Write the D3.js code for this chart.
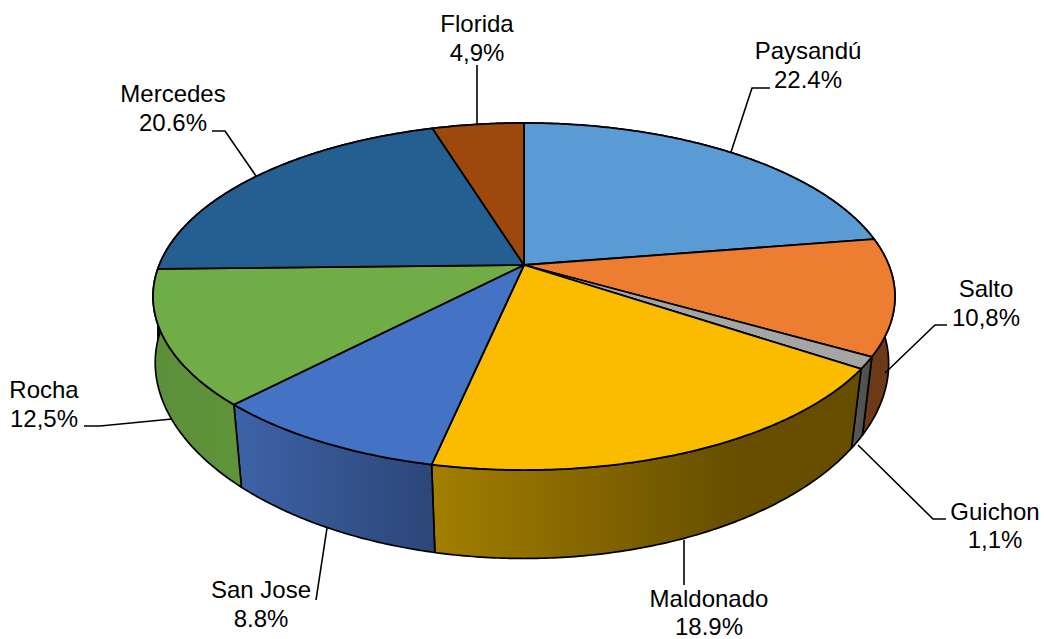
<!DOCTYPE html>
<html>
<head>
<meta charset="utf-8">
<script src="https://cdn.jsdelivr.net/npm/d3@7/dist/d3.min.js"></script>
<style>html,body{margin:0;padding:0;background:#fff}svg{display:block}</style>
</head>
<body>
<script>
const categories = ["Paysandú","Salto","Guichon","Maldonado","San Jose","Rocha","Mercedes","Florida"];
const values = [22.4,10.8,1.1,18.9,8.8,12.5,20.6,4.9];
const valueLabels = ["22.4%","10,8%","1,1%","18.9%","8.8%","12,5%","20.6%","4,9%"];
const topColors = ["#5b9bd5","#ed7d31","#a5a5a5","#fbbc00","#4472c4","#70ad47","#255e91","#9e480e"];
const wallStart = ["#3d6a94","#6c3a16","#5a5a5a","#a37f00","#3d63a8","#5c8f3a","#1a4266","#6e320a"];
const wallEnd   = ["#3d6a94","#6c3a16","#4c4c4c","#664d00","#2c4677","#5f9439","#1a4266","#6e320a"];

// label layout: centre x, first baseline, leader polyline
const labelLayout = [
  {x:808,y:59, dy:29, leader:[[770,88],[752,88],[731,152]]},
  {x:986,y:297,dy:29, leader:[[947,325],[935,325],[885,373]]},
  {x:995,y:520,dy:28, leader:[[946,519],[933,519],[858,445]]},
  {x:709,y:607,dy:28, leader:[[684,585],[684,540]]},
  {x:261,y:598,dy:29, leader:[[316,600],[327,528]]},
  {x:44, y:398,dy:29, leader:[[84,426],[100,426],[172,419]]},
  {x:173,y:102,dy:29, leader:[[212,131],[225,131],[256,176]]},
  {x:477,y:32, dy:29, leader:[[477,65],[477,124]]}
];

const W = 1044, H = 639;
const cx = 524, cy = 265;
const persp = 0.1816, ay = 167.8, ax = 364.8;
const depthBase = 70, depthSlope = 0.09;
const skew = 0.5 * Math.PI / 180;

const svg = d3.select("body").append("svg").attr("width",W).attr("height",H);
const defs = svg.append("defs");

// small angular correction for the chart's view; zero at the 12 o'clock seam
function warp(t){
  return t + skew * Math.min(1, t/Math.PI, (2*Math.PI - t)/(Math.PI/10));
}
function top3d(t0){
  const t = warp(t0);
  const u = Math.sin(t), v = -Math.cos(t), w = 1 - persp*v;
  return [cx + ax*u/w, cy + ay*v/w];
}
function bottom3d(t0){
  const [x,y] = top3d(t0);
  const v = Math.max(0, -Math.cos(warp(t0)));
  const s = x < cx ? 1 - 0.036*v : 1 - 0.012 - 0.03*v;
  return [cx + s*(x-cx), y + depthBase + depthSlope*(y-cy)];
}
function samples(a,b){
  const n = Math.max(2, Math.ceil((b-a)/0.01));
  return d3.range(n+1).map(i => a + (b-a)*i/n);
}

const pie = d3.pie().sort(null).value(d => d);
const arcs = pie(values);
const line = d3.line();

arcs.forEach((d,i)=>{
  const g = defs.append("linearGradient").attr("id","wall"+i).attr("x1",0).attr("x2",1).attr("y1",0).attr("y2",0);
  g.append("stop").attr("offset",0).attr("stop-color",wallStart[i]);
  g.append("stop").attr("offset",i===3?0.72:1).attr("stop-color",wallEnd[i]);
  if(i===3) g.append("stop").attr("offset",1).attr("stop-color",wallEnd[i]);
});

// outer walls
svg.append("g").selectAll("path").data(arcs).join("path")
  .attr("d", d=>{
    const s = samples(d.startAngle,d.endAngle);
    return line(s.map(top3d).concat(s.slice().reverse().map(bottom3d))) + "Z";
  })
  .attr("fill",(d,i)=>`url(#wall${i})`)
  .attr("stroke","#000").attr("stroke-width",1.7).attr("stroke-linejoin","round");

// top faces
svg.append("g").selectAll("path").data(arcs).join("path")
  .attr("d", d=>{
    const s = samples(d.startAngle,d.endAngle);
    return line([[cx,cy]].concat(s.map(top3d))) + "Z";
  })
  .attr("fill",(d,i)=>topColors[i])
  .attr("stroke","#000").attr("stroke-width",1.8).attr("stroke-linejoin","round");

// leaders
svg.append("g").selectAll("path").data(labelLayout).join("path")
  .attr("d",d=>line(d.leader)).attr("fill","none")
  .attr("stroke","#000").attr("stroke-width",1.6);

// labels
const lab = svg.append("g").attr("font-family","'Liberation Sans',Arial,sans-serif")
  .attr("font-size",24).attr("fill","#000").attr("text-anchor","middle");
categories.forEach((c,i)=>{
  const l = labelLayout[i];
  lab.append("text").attr("x",l.x).attr("y",l.y).text(c);
  lab.append("text").attr("x",l.x).attr("y",l.y+l.dy).text(valueLabels[i]);
});
</script>
</body>
</html>
